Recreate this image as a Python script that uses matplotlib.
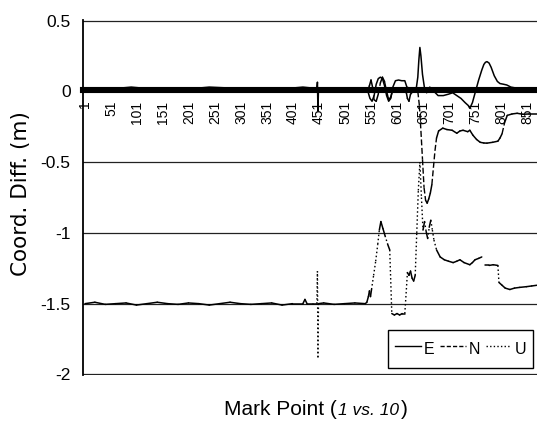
import numpy as np
import matplotlib
matplotlib.use("Agg")
import matplotlib.pyplot as plt
from matplotlib.collections import LineCollection
from matplotlib.lines import Line2D
from matplotlib.offsetbox import TextArea, HPacker, AnchoredOffsetbox

plt.rcParams["font.family"] = ["Liberation Sans", "DejaVu Sans"]
plt.rcParams["axes.unicode_minus"] = False

# ---------- data ----------
TICK_PTS = list(range(1, 852, 50))
Y_TICKS = [0.5, 0, -0.5, -1, -1.5, -2]
Y_LABELS = ["0.5", "0", "-0.5", "-1", "-1.5", "-2"]

E_PTS = [1, 30, 60, 90, 120, 150, 180, 210, 240, 270, 300, 330, 360, 390, 420,
         447, 448, 449, 450, 480, 510, 540,
         545, 549, 553, 557, 561, 565, 569, 573, 577, 581, 585, 589, 593,
         598, 604, 610, 616, 620, 626, 632, 638,
         641, 643, 645, 647, 650, 654, 658,
         664, 672, 680, 690, 700, 708, 716, 724, 732, 738, 741, 746, 752, 758,
         764, 768, 771, 774, 778, 782, 788, 794, 799, 806, 812, 820, 835, 850, 870]
E_VALS = [0.02, 0.025, 0.02, 0.03, 0.02, 0.025, 0.02, 0.02, 0.03, 0.025, 0.02, 0.02, 0.025, 0.02, 0.03,
          0.02, 0.065, -0.14, 0.02, 0.025, 0.02, 0.02,
          0.0, -0.05, -0.07, -0.03, 0.05, 0.09, 0.1, 0.09, 0.04, -0.03, -0.07, -0.05, 0.03,
          0.075, 0.08, 0.075, 0.075, 0.03, 0.02, 0.02, 0.02,
          0.1, 0.22, 0.31, 0.25, 0.12, 0.02, -0.01,
          0.03, 0.0, -0.03, -0.03, -0.02, -0.01, -0.03, -0.05, -0.08, -0.1, -0.12, -0.08, 0.0, 0.08,
          0.15, 0.19, 0.205, 0.21, 0.2, 0.17, 0.11, 0.07, 0.055, 0.05, 0.045, 0.03, 0.02, 0.02, 0.02]

N_PTS = [1, 30, 60, 90, 120, 150, 180, 210, 240, 270, 300, 330, 360, 390, 420, 450, 480, 510, 540,
         544, 548, 551, 554, 557, 561, 565, 569, 573, 577, 581, 585, 589, 593, 600, 608, 615, 619,
         621, 624, 627, 632, 638, 641,
         644, 647, 650, 653, 656, 659, 662, 665, 668, 671, 674, 677, 681, 689, 697, 707, 716, 722,
         728, 737, 741, 747, 754, 761, 768, 774, 785, 795, 799, 803, 808, 813, 822, 832, 843, 855, 870]
N_VALS = [0.01, 0.015, 0.01, 0.02, 0.01, 0.015, 0.01, 0.02, 0.015, 0.01, 0.015, 0.02, 0.01, 0.015,
          0.01, 0.015, 0.02, 0.01, 0.015,
          0.0, 0.04, 0.08, 0.03, -0.06, -0.07, -0.02, 0.06, 0.1, 0.07, 0.0, -0.06, -0.04, 0.01, 0.01,
          0.01, 0.0, -0.01, -0.05, -0.07, -0.02, 0.0, 0.0, 0.0,
          -0.1, -0.28, -0.48, -0.68, -0.77, -0.79, -0.76, -0.72, -0.66, -0.54, -0.42, -0.33, -0.28,
          -0.26, -0.27, -0.275, -0.296, -0.28, -0.275, -0.285, -0.275, -0.31, -0.34, -0.36, -0.365,
          -0.366, -0.36, -0.352, -0.33, -0.3, -0.22, -0.17, -0.16, -0.155, -0.162, -0.16, -0.16]

U_PTS = [1, 20, 40, 60, 80, 100, 120, 140, 160, 180, 200, 220, 240, 260, 280, 300, 320, 340,
         360, 380, 400, 420, 424, 428, 440, 447, 448, 449, 450, 460, 480, 500, 520, 540,
         543, 546, 548, 550, 552, 556, 560, 564, 567, 570, 574, 578, 583, 587, 591, 596, 601,
         606, 611, 616, 619, 621, 624, 627, 630, 633, 636, 639, 642, 645, 648, 651, 654, 657,
         660, 663, 666, 669, 672, 677, 684, 692, 700, 709, 716, 722, 730, 741, 746, 751, 758,
         764, 767, 770, 778, 786, 795, 797, 803, 809, 818, 827, 837, 850, 860, 870]
U_VALS = [-1.5, -1.49, -1.505, -1.5, -1.495, -1.51, -1.5, -1.49, -1.5, -1.505, -1.495, -1.5,
          -1.51, -1.5, -1.49, -1.5, -1.505, -1.5, -1.495, -1.51, -1.5, -1.5,
          -1.47, -1.5, -1.5, -1.5, -1.27, -1.88, -1.5, -1.495, -1.505, -1.5, -1.495, -1.5,
          -1.49, -1.45, -1.41, -1.45, -1.4, -1.3, -1.2, -1.08, -0.98, -0.92, -0.97, -1.02,
          -1.08, -1.12, -1.57, -1.58, -1.57, -1.58, -1.57, -1.57, -1.4, -1.28, -1.3, -1.27,
          -1.32, -1.34, -1.3, -1.0, -0.7, -0.5, -0.75, -0.98, -0.92, -0.99, -1.04, -0.96,
          -0.91, -0.98, -1.05, -1.12, -1.17, -1.19, -1.2, -1.21, -1.2, -1.19, -1.21, -1.225,
          -1.21, -1.19, -1.18, -1.17, np.nan, -1.23, -1.23, -1.225, -1.23, -1.35, -1.37,
          -1.39, -1.4, -1.39, -1.385, -1.38, -1.375, -1.37]


def split_segments(x, y, thresh=0.06):
    # dense data: short steps look solid, only steep jumps show the dash pattern
    flat, steep = [], []
    for i in range(len(x) - 1):
        if np.isnan(y[i]) or np.isnan(y[i + 1]):
            continue
        seg = [(x[i], y[i]), (x[i + 1], y[i + 1])]
        (steep if abs(y[i + 1] - y[i]) > thresh else flat).append(seg)
    return flat, steep


def draw_series(ax, x, y, dash):
    flat, steep = split_segments(x, y)
    ax.add_collection(LineCollection(flat, colors="k", linewidths=1.1,
                                     capstyle="round", zorder=3))
    ax.add_collection(LineCollection(steep, colors="k", linewidths=1.0,
                                     linestyles=[dash], zorder=3))


fig = plt.figure(figsize=(5.37, 4.23), dpi=100)
ax = fig.add_axes([83 / 537, 48 / 423, 454 / 537, 355 / 423])

ax.plot(E_PTS, E_VALS, color="k", lw=1.1, zorder=3)
draw_series(ax, N_PTS, N_VALS, (0, (4.3, 1.8)))
draw_series(ax, U_PTS, U_VALS, (0, (1.1, 1.8)))

ax.set_xlim(-2.8, 870.2)
ax.set_ylim(-2.004, 0.504)

ax.set_yticks(Y_TICKS)
ax.set_yticklabels(Y_LABELS)
ax.yaxis.grid(True, color="#222222", lw=0.9)
ax.set_axisbelow(True)
ax.tick_params(axis="y", length=0, pad=9, labelsize=12.5)

ax.set_xticks(TICK_PTS)
ax.set_xticklabels([str(t) for t in TICK_PTS])
ax.tick_params(axis="x", length=0, pad=8, labelsize=10, labelrotation=90)

for s in ("top", "right"):
    ax.spines[s].set_visible(False)
ax.spines["left"].set_linewidth(1.3)
ax.spines["bottom"].set_position(("data", 0.012))
ax.spines["bottom"].set_linewidth(4.4)

fig.text(21 / 537, (423 - 194) / 423, "Coord. Diff. (m)", rotation=90,
         ha="center", va="center", fontsize=15.5, family="DejaVu Sans")

parts = [
    TextArea("Mark Point (", textprops=dict(fontsize=15, color="k")),
    TextArea("1 vs. 10", textprops=dict(fontsize=12.5, style="italic", color="k")),
    TextArea(")", textprops=dict(fontsize=15, color="k")),
]
xlab = AnchoredOffsetbox(loc="center", child=HPacker(children=parts, align="baseline", pad=0, sep=1),
                         frameon=False, bbox_to_anchor=(316 / 537, 14 / 423),
                         bbox_transform=fig.transFigure, borderpad=0)
fig.add_artist(xlab)

handles = [
    Line2D([], [], color="k", lw=1.0),
    Line2D([], [], color="k", lw=1.0, ls=(0, (3, 1.5))),
    Line2D([], [], color="k", lw=1.0, ls=(0, (1, 1.6))),
]
leg = fig.legend(handles, ["E", "N", "U"], loc="upper left",
                 bbox_to_anchor=(388 / 537, (423 - 330) / 423), borderaxespad=0, ncol=3,
                 fancybox=False, edgecolor="k", framealpha=1, fontsize=11.5,
                 handlelength=1.6, handleheight=1.9, handletextpad=0.2,
                 columnspacing=0.35, borderpad=0.45)
leg.get_frame().set_linewidth(1.0)

fig.savefig("out.png", dpi=100)
